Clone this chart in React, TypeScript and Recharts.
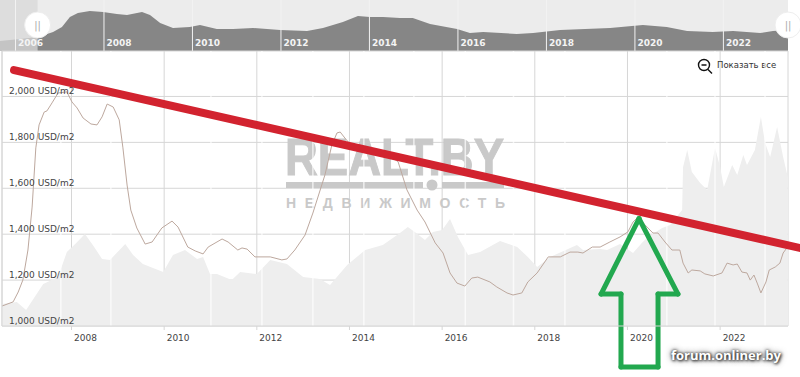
import React from 'react';
import {
  Area,
  AreaChart,
  CartesianGrid,
  ComposedChart,
  Line,
  ReferenceArea,
  ReferenceDot,
  ReferenceLine,
  XAxis,
  YAxis,
} from 'recharts';

const priceYears = [2006.5, 2006.74, 2006.85, 2006.95, 2007.06, 2007.15, 2007.23, 2007.3, 2007.41, 2007.47, 2007.58, 2007.71, 2007.9, 2008.01, 2008.12, 2008.25, 2008.42, 2008.55, 2008.66, 2008.77, 2008.9, 2009.03, 2009.11, 2009.2, 2009.28, 2009.41, 2009.59, 2009.74, 2009.95, 2010.17, 2010.3, 2010.51, 2010.67, 2010.84, 2010.95, 2011.25, 2011.38, 2011.59, 2011.68, 2011.79, 2011.96, 2012.29, 2012.54, 2012.65, 2012.82, 2013.04, 2013.21, 2013.47, 2013.62, 2013.73, 2013.8, 2013.9, 2014.12, 2014.44, 2014.77, 2015.05, 2015.24, 2015.46, 2015.63, 2015.85, 2016.02, 2016.17, 2016.32, 2016.49, 2016.64, 2016.77, 2017.03, 2017.18, 2017.4, 2017.53, 2017.72, 2017.85, 2018.05, 2018.29, 2018.55, 2018.76, 2018.93, 2019.04, 2019.24, 2019.41, 2019.62, 2019.84, 2020.01, 2020.12, 2020.23, 2020.38, 2020.55, 2020.66, 2020.81, 2020.96, 2021.13, 2021.2, 2021.31, 2021.39, 2021.57, 2021.67, 2021.85, 2022.04, 2022.15, 2022.28, 2022.37, 2022.47, 2022.58, 2022.65, 2022.73, 2022.8, 2022.88, 2022.99, 2023.06, 2023.19, 2023.29, 2023.36, 2023.44];
const priceValues = [1087, 1105, 1148, 1200, 1331, 1518, 1776, 1876, 1932, 1937, 1972, 2015, 2020, 1976, 1950, 1906, 1880, 1876, 1911, 1967, 1954, 1898, 1776, 1614, 1505, 1427, 1357, 1366, 1427, 1457, 1431, 1344, 1327, 1314, 1344, 1379, 1366, 1331, 1340, 1335, 1301, 1301, 1288, 1292, 1331, 1396, 1492, 1658, 1789, 1841, 1845, 1819, 1767, 1758, 1758, 1715, 1593, 1505, 1453, 1362, 1318, 1231, 1187, 1174, 1209, 1213, 1192, 1170, 1144, 1135, 1144, 1192, 1231, 1301, 1301, 1322, 1322, 1318, 1344, 1344, 1366, 1388, 1410, 1453, 1475, 1440, 1405, 1405, 1366, 1331, 1331, 1274, 1231, 1244, 1240, 1227, 1218, 1231, 1274, 1266, 1270, 1235, 1231, 1200, 1222, 1187, 1144, 1192, 1244, 1257, 1274, 1318, 1340];

const volumeYears = [2006.5, 2006.82, 2007.02, 2007.39, 2007.71, 2007.9, 2008.08, 2008.29, 2008.46, 2008.66, 2008.83, 2009.16, 2009.33, 2009.54, 2009.98, 2010.19, 2010.45, 2010.71, 2010.84, 2010.99, 2011.14, 2011.46, 2011.64, 2012.0, 2012.29, 2012.65, 2013.0, 2013.36, 2013.58, 2013.95, 2014.34, 2014.72, 2015.09, 2015.26, 2015.41, 2015.63, 2015.8, 2016.0, 2016.17, 2016.34, 2016.56, 2016.82, 2017.25, 2017.62, 2017.85, 2018.05, 2018.33, 2018.91, 2019.04, 2019.41, 2019.56, 2019.84, 2020.12, 2020.31, 2020.44, 2020.75, 2020.92, 2021.18, 2021.2, 2021.29, 2021.39, 2021.57, 2021.72, 2021.89, 2022.0, 2022.08, 2022.26, 2022.37, 2022.5, 2022.58, 2022.75, 2022.88, 2022.97, 2023.08, 2023.23, 2023.36, 2023.46];
const volumeValues = [22, 24, 16, 42, 49, 74, 82, 92, 81, 67, 66, 82, 71, 62, 54, 71, 76, 67, 69, 52, 52, 46, 54, 52, 66, 62, 49, 47, 41, 61, 76, 81, 93, 99, 94, 86, 94, 96, 107, 89, 71, 74, 85, 79, 69, 59, 69, 81, 76, 77, 76, 82, 73, 83, 89, 98, 101, 116, 159, 176, 154, 143, 136, 178, 159, 139, 161, 151, 171, 161, 176, 209, 183, 169, 199, 169, 149];

const overviewYears = [2005.65, 2006.1, 2006.51, 2006.85, 2007.05, 2007.23, 2007.41, 2007.68, 2007.98, 2008.29, 2008.52, 2008.86, 2009.04, 2009.27, 2009.56, 2009.94, 2010.17, 2010.55, 2010.92, 2011.37, 2011.98, 2012.59, 2012.95, 2013.4, 2013.74, 2014.01, 2014.31, 2014.69, 2014.98, 2015.37, 2015.98, 2016.27, 2016.57, 2017.33, 2017.7, 2018.31, 2019.44, 2020.18, 2020.72, 2021.18, 2021.76, 2022.22, 2022.83, 2023.12, 2023.46];
const overviewValues = [10, 12, 14, 19, 24, 34, 38, 40, 39, 37, 36, 39, 36, 28, 23, 24, 26, 22, 22, 23, 21, 20, 23, 29, 35, 34, 34, 33, 33, 27, 22, 18, 19, 17, 18, 21, 23, 26, 24, 20, 19, 20, 18, 20, 21];

const stripeYears = [2007.77, 2008.85, 2011.01, 2012.11, 2013.21, 2014.31, 2015.39, 2016.5, 2017.54, 2018.65, 2020.85, 2021.89, 2022.97];

const trendYears = [2006.76, 2023.72];
const trendValues = [2115, 1340];

const arrowYears = [2020.25, 2019.43, 2019.86, 2019.86, 2020.66, 2020.66, 2021.09, 2020.25];
const arrowValues = [1468, 1139, 1139, 821, 821, 1139, 1139, 1468];

const priceTicks = [1000, 1200, 1400, 1600, 1800, 2000];
const mainYearTicks = [2008, 2010, 2012, 2014, 2016, 2018, 2020, 2022];
const overviewYearTicks = [2006, 2008, 2010, 2012, 2014, 2016, 2018, 2020, 2022];

const priceData = priceYears.map((year, i) => ({ year, price: priceValues[i] }));
const volumeData = volumeYears.map((year, i) => ({ year, volume: volumeValues[i] }));
const overviewData = overviewYears.map((year, i) => ({ year, level: overviewValues[i] }));

const font = '"DejaVu Sans", sans-serif';
const gridColor = '#d6d6d6';

const PriceTick = ({ y, payload }: any) => (
  <text x={9} y={y - 2} fontFamily={font} fontSize={9} fill="#444">
    {payload.value.toLocaleString('en-US')} USD/m2
  </text>
);

const YearTick = ({ x, payload }: any) => (
  <text x={x + 2.5} y={341} fontFamily={font} fontSize={9} fill="#444">
    {payload.value}
  </text>
);

const OverviewLabel = ({ viewBox, value }: any) => (
  <text x={viewBox.x + 2.5} y={46} fontFamily={font} fontSize={9} fontWeight="bold" fill="#f4f4f4">
    {value}
  </text>
);

const handleLabel = { value: '||', fill: '#aaa', fontSize: 10, fontFamily: font };

const App = () => (
  <div style={{ position: 'absolute', left: 0, top: 0, width: 800, height: 377, background: '#fff', overflow: 'hidden' }}>
    <div style={{ position: 'absolute', left: 0, top: 0 }}>
      <AreaChart width={800} height={51} data={overviewData} margin={{ top: 0, right: 12, bottom: 0, left: 0 }}>
        <XAxis hide dataKey="year" type="number" domain={[2005.65, 2023.46]} />
        <YAxis hide domain={[0, 51]} />
        <CartesianGrid fill="#ececec" stroke="none" />
        <Area dataKey="level" type="linear" stroke="none" fill="#868686" fillOpacity={1} isAnimationActive={false} />
        {overviewYearTicks.map(year => (
          <ReferenceLine
            key={year}
            x={year}
            stroke="#f2f2f2"
            strokeWidth={1}
            label={<OverviewLabel value={year} />}
          />
        ))}
        <ReferenceArea x1={2005.65} x2={2006.5} y1={0} y2={51} fill="#d8d8d8" fillOpacity={0.75} stroke="none" />
        <ReferenceDot x={2006.5} y={26} r={13} fill="#fff" stroke="#eee" label={handleLabel} ifOverflow="visible" />
        <ReferenceDot x={2023.46} y={26} r={13} fill="#fff" stroke="#eee" label={handleLabel} ifOverflow="visible" />
      </AreaChart>
    </div>
    <div style={{ position: 'absolute', left: 0, top: 0 }}>
      <ComposedChart width={800} height={377} margin={{ top: 51, right: 12, bottom: 0, left: 1 }}>
        <XAxis
          dataKey="year"
          type="number"
          domain={[2006.5, 2023.465]}
          allowDataOverflow
          ticks={mainYearTicks}
          interval={0}
          height={51}
          stroke={gridColor}
          tickSize={4}
          tick={YearTick}
        />
        <YAxis
          yAxisId="price"
          type="number"
          domain={[1000, 2198]}
          allowDataOverflow
          ticks={priceTicks}
          interval={0}
          width={1}
          stroke={gridColor}
          tickSize={0}
          tick={PriceTick}
        />
        <YAxis yAxisId="volume" hide orientation="right" domain={[0, 275]} />
        <Area
          yAxisId="volume"
          data={volumeData}
          dataKey="volume"
          type="linear"
          stroke="none"
          fill="#eeeeee"
          fillOpacity={1}
          isAnimationActive={false}
        />
        {stripeYears.map(year => (
          <ReferenceLine key={year} yAxisId="price" x={year} stroke="#fff" strokeWidth={1.5} strokeOpacity={0.7} />
        ))}
        <CartesianGrid yAxisId="price" stroke={gridColor} />
        <g fontFamily='"Liberation Sans", sans-serif' fontWeight="bold" fill="#c9c9c9">
          <text x={285} y={175} fontSize={52} textLength={219} lengthAdjust="spacingAndGlyphs" stroke="#c9c9c9" strokeWidth={1}>REALT.BY</text>
          <rect x={286} y={182} width={137} height={6} />
          <circle cx={432} cy={185} r={5.5} />
          <rect x={442} y={182} width={62} height={6} />
          <text x={286} y={208} fontSize={14} textLength={219}>НЕДВИЖИМОСТЬ</text>
        </g>
        <Line
          yAxisId="price"
          data={priceData}
          dataKey="price"
          type="linear"
          stroke="#bda89e"
          strokeWidth={1}
          dot={false}
          isAnimationActive={false}
        />
        <ReferenceLine
          yAxisId="price"
          ifOverflow="visible"
          segment={[
            { x: trendYears[0], y: trendValues[0] },
            { x: trendYears[1], y: trendValues[1] },
          ]}
          stroke="#d2232f"
          strokeWidth={8}
          strokeLinecap="round"
        />
        {arrowYears.slice(1).map((year, i) => (
          <ReferenceLine
            key={i}
            yAxisId="price"
            ifOverflow="visible"
            segment={[
              { x: arrowYears[i], y: arrowValues[i] },
              { x: year, y: arrowValues[i + 1] },
            ]}
            stroke="#22a84f"
            strokeWidth={5}
            strokeLinecap="round"
          />
        ))}
        <g fill="none" stroke="#111" strokeWidth={1.4}>
          <circle cx={704} cy={65} r={5.5} />
          <path d="M701.5 65h5M708 69.5l4 4" />
        </g>
        <text x={717} y={68} fontFamily={font} fontSize={8.5} fill="#333">Показать все</text>
      </ComposedChart>
    </div>
    <div
      style={{
        position: 'absolute',
        left: 671,
        top: 347,
        fontFamily: '"Open Sans", sans-serif',
        fontWeight: 700,
        fontSize: 13,
        lineHeight: '16px',
        color: '#fff',
        textShadow: '0 0 3px #333, 1px 1px 3px #333, 0 0 6px #555',
      }}
    >
      forum.onliner.by
    </div>
  </div>
);

export default App;
